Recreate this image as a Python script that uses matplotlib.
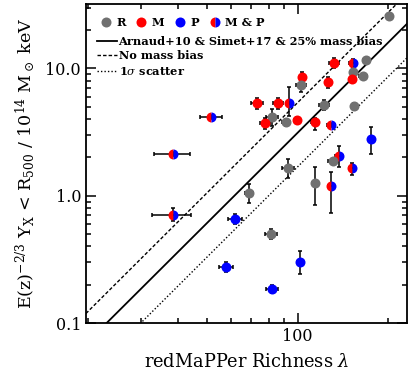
import numpy as np
import matplotlib
matplotlib.use("Agg")
import matplotlib.pyplot as plt
from matplotlib.lines import Line2D
from matplotlib.ticker import FixedLocator, FixedFormatter, NullFormatter

# cluster data
lam = [201.5, 131.8, 152.9, 169.4, 152.9, 151.7, 165.1, 103.4, 102.9, 126.2,
       73.4, 86.0, 93.3, 122.4, 154.1, 82.4, 91.7, 78.0, 99.8, 113.9,
       128.8, 51.6, 38.4, 38.4, 175.1, 136.9, 131.1, 151.7, 92.8, 114.6,
       129.5, 68.7, 61.7, 81.7, 57.8, 101.5, 82.4]
lam_err = [0.0, 5.1, 4.7, 3.9, 2.4, 2.4, 5.0, 1.6, 4.0, 2.0,
           3.4, 3.3, 0.5, 4.7, 2.4, 3.8, 2.8, 3.0, 2.3, 3.0,
           4.0, 4.4, 5.3, 5.8, 0.0, 4.2, 5.0, 3.5, 4.3, 2.6,
           3.0, 2.1, 3.3, 3.8, 3.1, 2.3, 3.8]
yx = [26.0, 11.0, 11.0, 11.6, 9.35, 8.30, 8.65, 8.54, 7.44, 7.80,
      5.33, 5.33, 5.33, 5.18, 5.11, 4.14, 3.78, 3.71, 3.95, 3.78,
      3.60, 4.14, 2.13, 0.709, 2.80, 2.07, 1.86, 1.64, 1.65, 1.26,
      1.20, 1.06, 0.655, 0.50, 0.276, 0.304, 0.186]
yx_lo = [0.0, 1.0, 0.8, 0.2, 0.5, 0.47, 0.15, 0.8, 0.89, 0.72,
         0.5, 0.5, 1.07, 0.48, 0.2, 0.6, 0.25, 0.35, 0.22, 0.5,
         0.15, 0.15, 0.08, 0.074, 0.66, 0.39, 0.1, 0.18, 0.28, 0.41,
         0.47, 0.18, 0.06, 0.045, 0.025, 0.062, 0.014]
yx_hi = [0.0, 1.0, 0.8, 0.2, 0.5, 0.47, 0.15, 0.8, 1.01, 0.72,
         0.5, 0.5, 1.76, 0.48, 0.2, 0.7, 0.25, 0.35, 0.22, 0.3,
         0.15, 0.15, 0.08, 0.086, 0.65, 0.41, 0.1, 0.18, 0.29, 0.43,
         0.35, 0.17, 0.06, 0.045, 0.025, 0.065, 0.014]
sample = ["R", "M", "MP", "R", "R", "M", "R", "M", "R", "M",
          "M", "M", "MP", "R", "R", "R", "R", "M", "M", "M",
          "MP", "MP", "MP", "MP", "P", "MP", "R", "MP", "R", "R",
          "MP", "R", "P", "R", "P", "P", "P"]

# scaling relation: Y = norm * (lambda/100)^slope
slope = 2.35
norm_bias = 3.13
norm_nobias = 5.4
norm_scatter = 1.69

grey = "#707070"
red = "#ff0000"
blue = "#0000ff"
ms = 7.2

plt.rcParams["font.family"] = "DejaVu Serif"
plt.rcParams["mathtext.fontset"] = "dejavuserif"

fig = plt.figure(figsize=(4.11, 3.78), dpi=100)
ax = fig.add_axes([0.209, 0.1455, 0.781, 0.8435])
ax.set_xscale("log")
ax.set_yscale("log")
ax.set_xlim(19.7, 231)
ax.set_ylim(0.1, 32)

# relations
lx = np.array([19.7, 231])
ax.plot(lx, norm_bias * (lx / 100) ** slope, color="k", lw=1.3)
ax.plot(lx, norm_nobias * (lx / 100) ** slope, color="k", lw=1.0, ls=(0, (2.5, 1.5)))
ax.plot(lx, norm_scatter * (lx / 100) ** slope, color="k", lw=1.0, ls=(0, (1, 1.5)))

# error bars
ax.errorbar(lam, yx, xerr=lam_err, yerr=[yx_lo, yx_hi], fmt="none",
            ecolor="k", elinewidth=1.1, capsize=1.6, capthick=1.1, zorder=3)

colors = {"R": grey, "M": red, "P": blue}
for x, y, s in zip(lam, yx, sample):
    if s == "MP":
        ax.plot(x, y, marker="o", ms=ms, fillstyle="left", markerfacecolor=red,
                markerfacecoloralt=blue, markeredgewidth=0, ls="none", zorder=4)
    else:
        ax.plot(x, y, marker="o", ms=ms, color=colors[s], markeredgewidth=0,
                ls="none", zorder=4)

# ticks
ax.tick_params(which="both", direction="in", top=True, right=True, width=1.1)
ax.tick_params(which="major", length=7, labelsize=11.5)
ax.tick_params(which="minor", length=3.5)
ax.yaxis.set_major_locator(FixedLocator([0.1, 1, 10]))
ax.yaxis.set_major_formatter(FixedFormatter(["0.1", "1.0", "10.0"]))
ax.xaxis.set_major_locator(FixedLocator([100]))
ax.xaxis.set_major_formatter(FixedFormatter(["100"]))
ax.xaxis.set_minor_formatter(NullFormatter())
ax.yaxis.set_minor_formatter(NullFormatter())
for sp in ax.spines.values():
    sp.set_linewidth(1.3)

ax.set_xlabel(r"redMaPPer Richness $\lambda$", fontsize=12.8, labelpad=6)
ax.set_ylabel(r"E(z)$^{-2/3}$ Y$_\mathrm{X}$ < R$_{500}$ / 10$^{14}$ M$_\odot$ keV",
              fontsize=12.6, labelpad=6)

# legends
pt_handles = [
    Line2D([], [], marker="o", ls="none", ms=ms, color=grey, markeredgewidth=0),
    Line2D([], [], marker="o", ls="none", ms=ms, color=red, markeredgewidth=0),
    Line2D([], [], marker="o", ls="none", ms=ms, color=blue, markeredgewidth=0),
    Line2D([], [], marker="o", ls="none", ms=ms, fillstyle="left", markerfacecolor=red,
           markerfacecoloralt=blue, markeredgewidth=0),
]
leg1 = ax.legend(pt_handles, ["R", "M", "P", "M & P"], ncol=4, loc="upper left",
                 bbox_to_anchor=(0.03, 0.975), frameon=False, handlelength=1.0,
                 handletextpad=0.4, columnspacing=0.9, borderaxespad=0,
                 prop={"weight": "bold", "size": 8.2})
ax.add_artist(leg1)
ln_handles = [
    Line2D([], [], color="k", lw=1.3),
    Line2D([], [], color="k", lw=1.0, ls=(0, (2.5, 1.5))),
    Line2D([], [], color="k", lw=1.0, ls=(0, (1, 1.5))),
]
ax.legend(ln_handles, ["Arnaud+10 & Simet+17 & 25% mass bias", "No mass bias",
                       r"1$\sigma$ scatter"],
          loc="upper left", bbox_to_anchor=(0.02, 0.915), frameon=False,
          handlelength=1.8, handletextpad=0.1, labelspacing=0.3, borderaxespad=0,
          prop={"weight": "bold", "size": 8.2})

fig.savefig("out.png", dpi=100)
